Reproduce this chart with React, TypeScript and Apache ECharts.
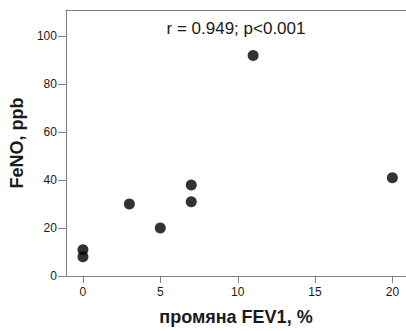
import React, { useEffect, useRef } from "react";
import * as echarts from "echarts";

// FEV1 change (%) vs FeNO (ppb)
const fev1Change: number[] = [0, 0, 3, 5, 7, 7, 11, 20];
const fenoValues: number[] = [8, 11, 30, 20, 31, 38, 92, 41];
const xTicks: number[] = [0, 5, 10, 15, 20];
const yTicks: number[] = [0, 20, 40, 60, 80, 100];
const xTitle = "промяна FEV1, %";
const yTitle = "FeNO, ppb";
const statsText = "r = 0.949; p<0.001";

const X_MIN = -1.1;
const X_MAX = 20.88;
const Y_MIN = 0;
const Y_MAX = 111;

const FONT = "'Liberation Sans', Arial, Helvetica, sans-serif";
const AXIS_COLOR = "#828282";
const TEXT_COLOR = "#1a1a1a";
const TICK_LEN = 7;

const frameLine = () => ({
  show: true,
  onZero: false,
  lineStyle: { color: AXIS_COLOR, width: 1 },
});

export default function App() {
  const ref = useRef<HTMLDivElement>(null);

  useEffect(() => {
    if (!ref.current) return;
    const chart = echarts.init(ref.current, undefined, { renderer: "svg" });

    const points = fev1Change.map((x, i) => [x, fenoValues[i]]);

    const titleStyle = {
      fontFamily: FONT,
      fontSize: 18,
      fontWeight: "bold",
      color: TEXT_COLOR,
    };
    const labelStyle = { fontSize: 12, fontFamily: FONT, color: TEXT_COLOR };

    chart.setOption({
      animation: false,
      backgroundColor: "#ffffff",
      textStyle: { fontFamily: FONT },
      grid: { left: 62, top: 10, right: 0, bottom: 49, containLabel: false },
      xAxis: [
        {
          type: "value",
          min: X_MIN,
          max: X_MAX,
          position: "bottom",
          name: xTitle,
          nameLocation: "middle",
          nameGap: 32,
          nameTextStyle: titleStyle,
          axisLine: frameLine(),
          axisTick: { show: false },
          axisLabel: { customValues: xTicks, margin: 10, ...labelStyle },
          splitLine: { show: false },
        },
        {
          // top frame line of the plot area
          type: "value",
          min: X_MIN,
          max: X_MAX,
          position: "top",
          axisLine: frameLine(),
          axisTick: { show: false },
          axisLabel: { show: false },
          splitLine: { show: false },
        },
      ],
      yAxis: {
        type: "value",
        min: Y_MIN,
        max: Y_MAX,
        position: "left",
        name: yTitle,
        nameLocation: "middle",
        nameGap: 38,
        nameTextStyle: titleStyle,
        axisLine: frameLine(),
        axisTick: { show: false },
        axisLabel: { customValues: yTicks, margin: 9, ...labelStyle },
        splitLine: { show: false },
      },
      graphic: [
        {
          type: "text",
          x: 236,
          y: 37,
          style: {
            text: statsText,
            fontFamily: FONT,
            fontSize: 17,
            fill: TEXT_COLOR,
            textAlign: "center",
            textVerticalAlign: "bottom",
          },
        },
      ],
      series: [
        {
          // outward tick marks on the x axis
          type: "custom",
          xAxisIndex: 0,
          yAxisIndex: 0,
          clip: false,
          silent: true,
          z: 5,
          data: xTicks.map((v) => [v, Y_MIN]),
          renderItem: (_params: any, api: any) => {
            const p = api.coord([api.value(0), Y_MIN]);
            const x = Math.round(p[0]) + 0.5;
            const y = Math.round(p[1]);
            return {
              type: "line",
              shape: { x1: x, y1: y, x2: x, y2: y + TICK_LEN },
              style: { stroke: AXIS_COLOR, lineWidth: 1 },
            };
          },
        },
        {
          // outward tick marks on the y axis
          type: "custom",
          xAxisIndex: 0,
          yAxisIndex: 0,
          clip: false,
          silent: true,
          z: 5,
          data: yTicks.map((v) => [X_MIN, v]),
          renderItem: (_params: any, api: any) => {
            const p = api.coord([X_MIN, api.value(1)]);
            const y = Math.round(p[1]) + 0.5;
            const x = Math.round(p[0]);
            return {
              type: "line",
              shape: { x1: x - TICK_LEN - 1, y1: y, x2: x, y2: y },
              style: { stroke: AXIS_COLOR, lineWidth: 1 },
            };
          },
        },
        {
          type: "scatter",
          xAxisIndex: 0,
          yAxisIndex: 0,
          data: points,
          symbol: "circle",
          symbolSize: 11,
          itemStyle: { color: "#000000" },
        },
      ],
    });

    return () => chart.dispose();
  }, []);

  return <div ref={ref} style={{ width: 406, height: 331, position: "absolute", left: 0, top: 0 }} />;
}
